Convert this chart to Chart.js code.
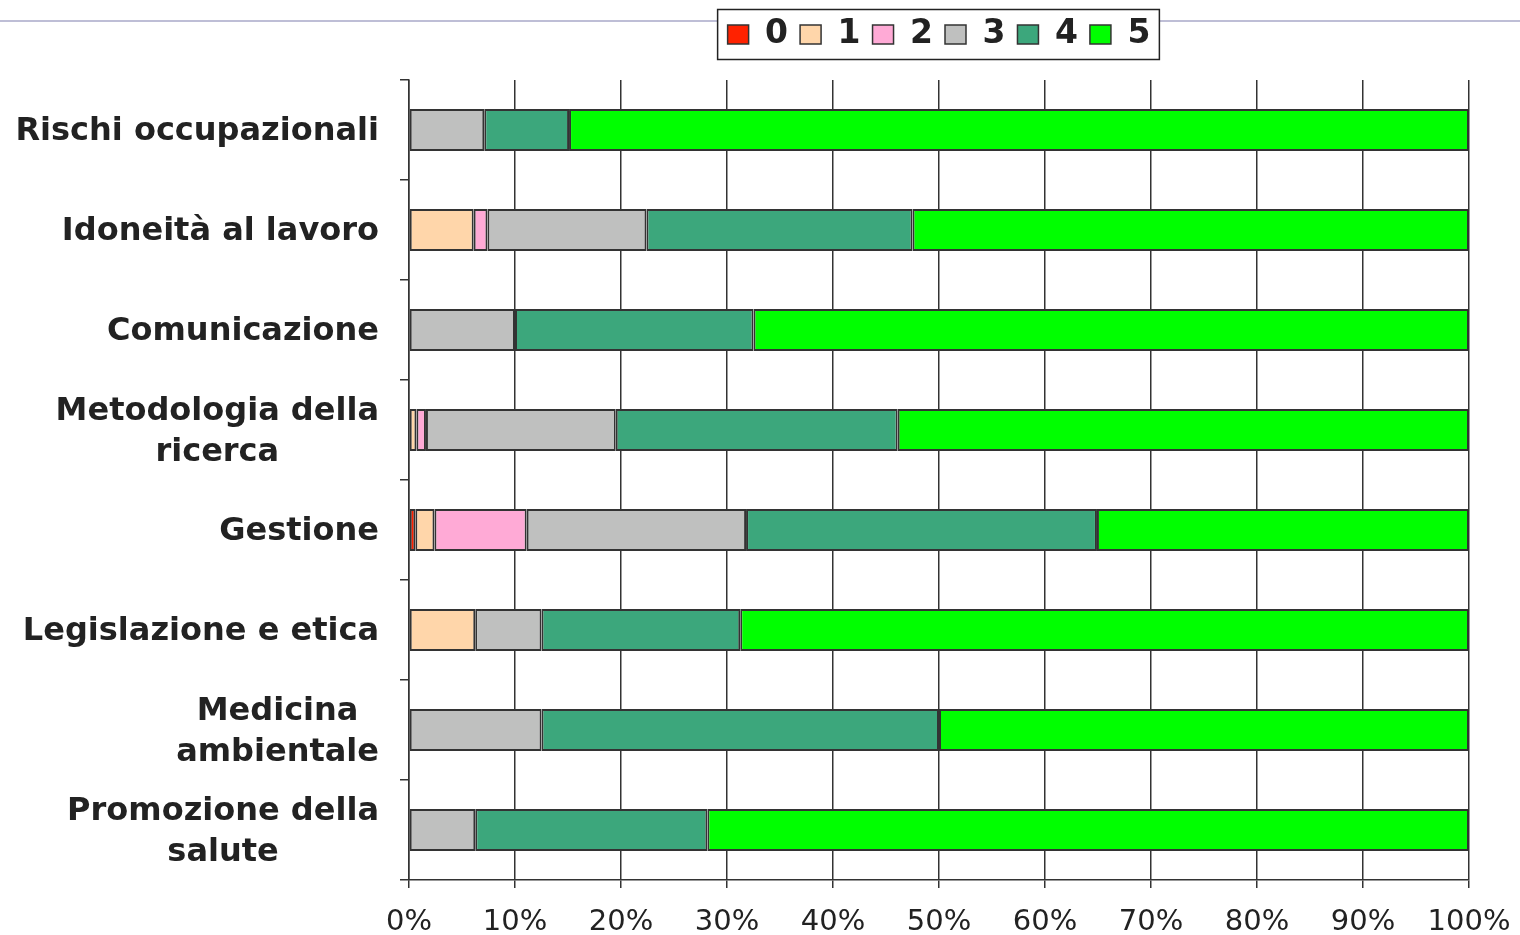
<!DOCTYPE html>
<html>
<head>
<meta charset="utf-8">
<script src="https://cdn.jsdelivr.net/npm/chart.js@4/dist/chart.umd.min.js"></script>
<style>
  html, body { margin: 0; padding: 0; background: #fff; }
  #wrap { width: 1520px; height: 935px; }
</style>
</head>
<body>
<div id="wrap"><canvas id="grafico"></canvas></div>
<script>
// categorie (righe del grafico)
const aree = [
    ["Rischi occupazionali"],
    ["Idoneità al lavoro"],
    ["Comunicazione"],
    ["Metodologia della", "ricerca"],
    ["Gestione"],
    ["Legislazione e etica"],
    ["Medicina", "ambientale"],
    ["Promozione della", "salute"]
];

// percentuali per punteggio 0..5
const voto0 = [null, null, null, null, 0.6, null, null, null];
const voto1 = [null, 6.1, null, 0.7, 1.8, 6.25, null, null];
const voto2 = [null, 1.3, null, 0.9, 8.7, null, null, null];
const voto3 = [7.1, 15.0, 10, 17.9, 20.7, 6.25, 12.5, 6.25];
const voto4 = [8.0, 25.1, 22.5, 26.6, 33.1, 18.75, 37.5, 21.9];
const voto5 = [84.9, 52.5, 67.5, 53.9, 35.1, 68.75, 50, 71.85];

const nomiSerie = ["0", "1", "2", "3", "4", "5"];
const colori = ["#FF2200", "#FFD6AA", "#FFAAD6", "#BFC0BF", "#3CA77C", "#00FF00"];
const percentuali = [0, 10, 20, 30, 40, 50, 60, 70, 80, 90, 100];

const serie = [voto0, voto1, voto2, voto3, voto4, voto5];

// spazio extra sotto la legenda
const spazioLegenda = {
    id: "spazioLegenda",
    beforeLayout(chart) {
        const leg = chart.legend;
        if (leg && !leg._patched) {
            const fit = leg.fit.bind(leg);
            leg.fit = function () {
                fit();
                this.height += 19;
            };
            leg._patched = true;
        }
    }
};

// linea in alto, bordo legenda e etichette asse y
const decorazioni = {
    id: "decorazioni",
    beforeDraw(chart) {
        const ctx = chart.ctx;
        ctx.save();
        ctx.strokeStyle = "#A8A8C8";
        ctx.lineWidth = 1.5;
        ctx.beginPath();
        ctx.moveTo(0, 21);
        ctx.lineTo(chart.width, 21);
        ctx.stroke();

        const boxes = chart.legend.legendHitBoxes;
        if (boxes && boxes.length) {
            const left = Math.min(...boxes.map(b => b.left)) - 10;
            const right = Math.max(...boxes.map(b => b.left + b.width)) + 9;
            const cy = boxes[0].top + boxes[0].height / 2;
            ctx.fillStyle = "#fff";
            ctx.strokeStyle = "#222";
            ctx.lineWidth = 1.5;
            ctx.fillRect(left, cy - 25, right - left, 50);
            ctx.strokeRect(left, cy - 25, right - left, 50);
        }
        ctx.restore();
    },
    afterDatasetsDraw(chart) {
        const ctx = chart.ctx;
        const y = chart.scales.y;
        ctx.save();
        ctx.font = "bold 32px 'DejaVu Sans'";
        ctx.fillStyle = "#222";
        ctx.textAlign = "center";
        ctx.textBaseline = "middle";
        const destra = chart.chartArea.left - 30;
        const passo = 41;
        aree.forEach((righe, i) => {
            const larg = Math.max(...righe.map(r => ctx.measureText(r).width));
            const cx = destra - larg / 2;
            const yc = y.getPixelForValue(i) + 2;
            righe.forEach((r, k) => {
                ctx.fillText(r, cx, yc + (k - (righe.length - 1) / 2) * passo);
            });
        });
        ctx.restore();
    }
};

new Chart(document.getElementById("grafico"), {
    type: "bar",
    data: {
        labels: aree.map(a => a.join(" ")),
        datasets: serie.map((s, i) => ({
            label: nomiSerie[i],
            data: s,
            backgroundColor: colori[i],
            borderColor: "#333",
            borderWidth: 2,
            borderSkipped: false,
            categoryPercentage: 1,
            barPercentage: 0.42
        }))
    },
    options: {
        indexAxis: "y",
        responsive: true,
        maintainAspectRatio: false,
        animation: false,
        layout: { padding: { top: 6, right: 51, left: 0, bottom: 0 } },
        plugins: {
            tooltip: { enabled: false },
            legend: {
                position: "top",
                fullSize: false,
                labels: {
                    color: "#222",
                    font: { family: "'DejaVu Sans'", size: 33, weight: "bold" },
                    boxWidth: 21,
                    boxHeight: 19,
                    padding: 12,
                    generateLabels(chart) {
                        return chart.data.datasets.map((d, i) => ({
                            text: d.label,
                            fillStyle: d.backgroundColor,
                            strokeStyle: "#333",
                            lineWidth: 1.5,
                            fontColor: "#222",
                            datasetIndex: i
                        }));
                    }
                }
            }
        },
        scales: {
            x: {
                stacked: true,
                min: 0,
                max: 100,
                afterBuildTicks(s) {
                    s.ticks = percentuali.map(v => ({ value: v }));
                },
                afterFit(s) {
                    s.height = 55;
                    s.paddingLeft = 0;
                    s.paddingRight = 0;
                },
                grid: {
                    color: "#333",
                    lineWidth: 1.5,
                    tickLength: 8,
                    drawTicks: true
                },
                border: { color: "#333", width: 1.5 },
                ticks: {
                    color: "#222",
                    font: { family: "'DejaVu Sans'", size: 29 },
                    padding: 17,
                    maxRotation: 0,
                    callback: v => v + "%"
                }
            },
            y: {
                stacked: true,
                afterFit(s) { s.width = 409; },
                grid: {
                    drawOnChartArea: false,
                    drawTicks: true,
                    tickLength: 9,
                    color: "#333",
                    lineWidth: 1.5
                },
                border: { color: "#333", width: 1.5 },
                ticks: { display: false }
            }
        }
    },
    plugins: [spazioLegenda, decorazioni]
});
</script>
</body>
</html>
